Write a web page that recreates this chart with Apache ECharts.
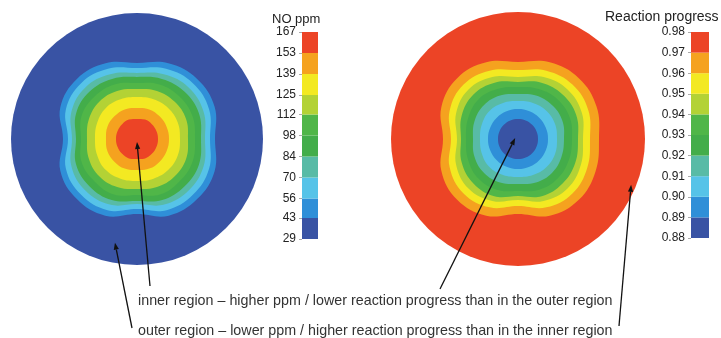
<!DOCTYPE html>
<html><head><meta charset="utf-8">
<script src="https://cdn.jsdelivr.net/npm/echarts@6/dist/echarts.min.js"></script>
<style>html,body{margin:0;padding:0;background:#fff}#c{width:721px;height:338px}</style>
</head><body><div id="c"></div>
<script>
// ---------- data ----------
// colours of the 10 bands, lowest band first
const bandColors = ['#3953a4','#2f8fd8','#56c3e8','#58bba6','#43ad4a','#50b648','#b3d235','#f3e922','#f5a21f','#ec4426'];

// NO ppm colour-bar levels (tick labels)
const noLevels = [29, 43, 56, 70, 84, 98, 112, 125, 139, 153, 167];
// Reaction progress colour-bar levels
const rpLevels = [0.88, 0.89, 0.90, 0.91, 0.92, 0.93, 0.94, 0.95, 0.96, 0.97, 0.98];

// angles (deg, clockwise from top) at which contour radii were read
const contourAngles = [0, 22.5, 45, 67.5, 90, 112.5, 135, 157.5, 180, 202.5, 225, 247.5, 270, 292.5, 315, 337.5];

// NO ppm plot: disk radius and contour radii (outermost first), contour level = lower bound of the band inside
const noDiskRadius = 126;
const noContourLevels = [43, 56, 70, 84, 98, 112, 125, 139, 153];
const noC43  = [76, 82, 85, 84, 78, 84, 85, 83, 75, 83, 85, 83, 74, 83, 85, 82];
const noC56  = [71, 76, 79, 78, 73, 78, 79, 77, 70, 77, 79, 77, 69, 77, 79, 76];
const noC70  = [66, 70, 73, 72, 68, 72, 73, 71, 65, 71, 73, 71, 65, 71, 73, 70];
const noC84  = [62, 65, 67, 67, 64, 67, 67, 66, 62, 66, 67, 66, 61, 66, 67, 65];
const noC98  = [56, 59, 60, 60, 58, 60, 60, 60, 56, 60, 60, 60, 56, 60, 60, 59];
const noC112 = [50, 52, 53, 53, 51, 53, 53, 52, 50, 52, 53, 52, 50, 52, 53, 52];
const noC125 = [42, 43, 44, 44, 43, 44, 44, 43, 42, 43, 44, 43, 42, 43, 44, 43];
const noC139 = [31, 32, 32, 32, 32, 32, 32, 32, 31, 32, 32, 32, 31, 32, 32, 32];
const noC153 = [20, 21, 21, 21, 21, 21, 21, 21, 20, 21, 21, 21, 21, 21, 21, 21];

// Reaction progress plot: contour level = upper bound of the band inside
const rpDiskRadius = 127;
const rpContourLevels = [0.97, 0.96, 0.95, 0.94, 0.93, 0.92, 0.91, 0.90, 0.89];
const rpC97 = [77, 83, 86, 85, 81, 84, 86, 83, 75, 83, 86, 83, 75, 83, 86, 83];
const rpC96 = [69, 74, 77, 76, 72, 75, 77, 74, 67, 74, 77, 74, 67, 74, 77, 74];
const rpC95 = [62, 67, 70, 69, 65, 68, 70, 67, 61, 67, 70, 67, 61, 67, 70, 67];
const rpC94 = [57, 61, 63, 63, 60, 62, 63, 62, 57, 62, 63, 61, 57, 61, 63, 61];
const rpC93 = [52, 54, 56, 56, 54, 55, 56, 55, 52, 55, 56, 54, 52, 54, 56, 54];
const rpC92 = [45, 47, 48, 48, 46, 47, 48, 47, 45, 47, 48, 47, 45, 47, 48, 47];
const rpC91 = [38, 39, 40, 40, 39, 40, 40, 39, 38, 39, 40, 39, 38, 39, 40, 39];
const rpC90 = [30, 30, 30, 30, 30, 30, 30, 30, 30, 30, 30, 30, 30, 30, 30, 30];
const rpC89 = [20, 20, 20, 20, 20, 20, 20, 20, 20, 20, 20, 20, 20, 20, 20, 20];

const noteInner = 'inner region \u2013 higher ppm / lower reaction progress than in the outer region';
const noteOuter = 'outer region \u2013 lower ppm / higher reaction progress than in the inner region';

// ---------- build ----------
const noContours = [noC43, noC56, noC70, noC84, noC98, noC112, noC125, noC139, noC153];
const noColors = noContourLevels.map(l => bandColors[noLevels.indexOf(l)]);
const rpContours = [rpC97, rpC96, rpC95, rpC94, rpC93, rpC92, rpC91, rpC90, rpC89];
const rpColors = rpContourLevels.map(l => bandColors[rpLevels.findIndex(v => Math.abs(v - l) < 1e-9) - 1]);

const FONT = '"Liberation Sans", Arial, sans-serif';

function contourSeries(polarIndex, diskR, diskColor, contours, colors) {
  return {
    type: 'custom', coordinateSystem: 'polar', polarIndex: polarIndex,
    silent: true, animation: false, z: 2,
    data: [[0, 0, -1]].concat(contours.map((c, i) => [0, 0, i])),
    renderItem: function (params, api) {
      const idx = api.value(2);
      if (idx < 0) {
        const c = api.coord([0, 0]);
        const e = api.coord([diskR, 0]);
        return { type: 'circle', shape: { cx: c[0], cy: c[1], r: Math.hypot(e[0] - c[0], e[1] - c[1]) }, style: { fill: diskColor } };
      }
      const pts = contourAngles.map((a, k) => api.coord([contours[idx][k], a]));
      return { type: 'polygon', shape: { points: pts, smooth: 0.4 }, style: { fill: colors[idx] } };
    }
  };
}

function barSeries(gridIdx, levels) {
  return {
    type: 'custom', coordinateSystem: 'cartesian2d', xAxisIndex: gridIdx, yAxisIndex: gridIdx,
    silent: true, animation: false,
    data: levels.slice(0, -1).map((lo, i) => [0, lo, levels[i + 1], i]),
    encode: { x: 0, y: [1, 2] },
    renderItem: function (params, api) {
      const p0 = api.coord([api.value(0), api.value(1)]);
      const p1 = api.coord([api.value(0), api.value(2)]);
      const w = api.size([1, 0])[0];
      return { type: 'rect', shape: { x: p0[0] - w / 2, y: p1[1], width: w, height: p0[1] - p1[1] }, style: { fill: bandColors[api.value(3)] } };
    }
  };
}

const hiddenAxis = { axisLine: { show: false }, axisTick: { show: false }, axisLabel: { show: false }, splitLine: { show: false }, splitArea: { show: false } };

const chart = echarts.init(document.getElementById('c'), null, { renderer: 'canvas' });
chart.setOption({
  animation: false,
  backgroundColor: '#ffffff',
  title: [
    { text: 'NO ppm', left: 272, top: 13, textStyle: { fontFamily: FONT, fontSize: 13, fontWeight: 'normal', color: '#222' }, padding: 0 },
    { text: 'Reaction progress', left: 605, top: 10, textStyle: { fontFamily: FONT, fontSize: 14, fontWeight: 'normal', color: '#222' }, padding: 0 }
  ],
  polar: [
    { center: [137, 139], radius: noDiskRadius },
    { center: [518, 139], radius: rpDiskRadius }
  ],
  radiusAxis: [
    Object.assign({ polarIndex: 0, type: 'value', min: 0, max: noDiskRadius }, hiddenAxis),
    Object.assign({ polarIndex: 1, type: 'value', min: 0, max: rpDiskRadius }, hiddenAxis)
  ],
  angleAxis: [
    Object.assign({ polarIndex: 0, type: 'value', min: 0, max: 360, startAngle: 90, clockwise: true }, hiddenAxis),
    Object.assign({ polarIndex: 1, type: 'value', min: 0, max: 360, startAngle: 90, clockwise: true }, hiddenAxis)
  ],
  grid: [
    { left: 302, top: 32, width: 16, height: 207 },
    { left: 691, top: 32, width: 18, height: 206 }
  ],
  xAxis: [
    { gridIndex: 0, type: 'category', data: [''], show: false },
    { gridIndex: 1, type: 'category', data: [''], show: false }
  ],
  yAxis: [
    {
      gridIndex: 0, type: 'value', min: noLevels[0], max: noLevels[noLevels.length - 1],
      axisLine: { show: false }, splitLine: { show: false },
      axisTick: { show: true, length: 3, customValues: noLevels, lineStyle: { color: '#aaa' } },
      axisLabel: { customValues: noLevels, margin: 6, fontFamily: FONT, fontSize: 12, color: '#222' }
    },
    {
      gridIndex: 1, type: 'value', min: rpLevels[0], max: rpLevels[rpLevels.length - 1],
      axisLine: { show: false }, splitLine: { show: false },
      axisTick: { show: true, length: 3, customValues: rpLevels, lineStyle: { color: '#aaa' } },
      axisLabel: { customValues: rpLevels, margin: 6, fontFamily: FONT, fontSize: 12, color: '#222', formatter: v => v.toFixed(2) }
    }
  ],
  series: [
    contourSeries(0, noDiskRadius, bandColors[0], noContours, noColors),
    contourSeries(1, rpDiskRadius, bandColors[9], rpContours, rpColors),
    barSeries(0, noLevels),
    barSeries(1, rpLevels)
  ]
});

// ---------- annotations (arrow tips anchored in the polar plots) ----------
function polarPx(idx, r, a) {
  try {
    const p = chart.convertToPixel({ polarIndex: idx }, [r, a]);
    if (p && isFinite(p[0])) return p;
  } catch (e) {}
  const c = idx === 0 ? [137, 139] : [518, 139];
  const rad = a * Math.PI / 180;
  return [c[0] + r * Math.sin(rad), c[1] - r * Math.cos(rad)];
}
function arrow(from, to) {
  const dx = to[0] - from[0], dy = to[1] - from[1];
  const L = Math.hypot(dx, dy), ux = dx / L, uy = dy / L;
  const hl = 7, hw = 2.6;
  const bx = to[0] - ux * hl, by = to[1] - uy * hl;
  return [
    { type: 'line', silent: true, z: 100, shape: { x1: from[0], y1: from[1], x2: bx, y2: by }, style: { stroke: '#111', lineWidth: 1.3 } },
    { type: 'polygon', silent: true, z: 100, shape: { points: [to, [bx - uy * hw, by + ux * hw], [bx + uy * hw, by - ux * hw]] }, style: { fill: '#111' } }
  ];
}
const g = [].concat(
  arrow([150, 286], polarPx(0, 3, 180)),
  arrow([132, 328], polarPx(0, 106, 192)),
  arrow([440, 289], polarPx(1, 3, 288)),
  arrow([619, 326], polarPx(1, 122, 112)),
  [
    { type: 'text', left: 138, top: 294, z: 100, silent: true, style: { text: noteInner, font: '14.3px ' + FONT, fill: '#333' } },
    { type: 'text', left: 138, top: 324, z: 100, silent: true, style: { text: noteOuter, font: '14.3px ' + FONT, fill: '#333' } }
  ]
);
chart.setOption({ graphic: { elements: g } });
</script></body></html>
